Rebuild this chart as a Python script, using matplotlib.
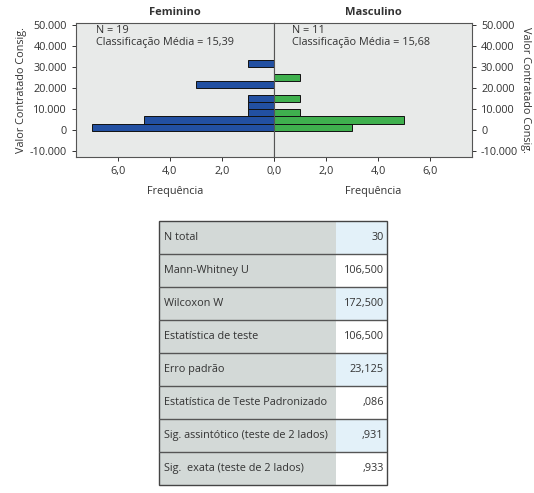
import matplotlib
matplotlib.use('Agg')
import matplotlib.pyplot as plt
from matplotlib.patches import Rectangle
import numpy as np

plt.rcParams['font.family'] = ['Open Sans', 'DejaVu Sans']

# colors
panel_bg   = '#e8eae9'
fem_blue   = '#2250a2'
masc_green = '#3fb04e'
frame_col  = '#555555'
text_col   = '#333333'
cell_gray  = '#d3d9d7'
cell_blue  = '#e3f1f9'

# histogram data (bins of Valor Contratado Consig.)
bin_start = -300
bin_width = 3380
fem_counts  = [7, 5, 1, 1, 1, 0, 3, 0, 0, 1]
masc_counts = [3, 5, 1, 0, 1, 0, 0, 1, 0, 0]
y_ticks = [-10000, 0, 10000, 20000, 30000, 40000, 50000]
y_tick_labels = ['-10.000', '0', '10.000', '20.000', '30.000', '40.000', '50.000']
x_ticks = [0, 2, 4, 6]
x_tick_labels = ['0,0', '2,0', '4,0', '6,0']
fem_info  = 'N = 19\nClassificação Média = 15,39'
masc_info = 'N = 11\nClassificação Média = 15,68'

# test summary table
row_labels = ['N total', 'Mann-Whitney U', 'Wilcoxon W', 'Estatística de teste',
              'Erro padrão', 'Estatística de Teste Padronizado',
              'Sig. assintótico (teste de 2 lados)', 'Sig.  exata (teste de 2 lados)']
row_values = ['30', '106,500', '172,500', '106,500', '23,125', ',086', ',931', ',933']

centers = bin_start + bin_width * (np.arange(len(fem_counts)) + 0.5)

fig = plt.figure(figsize=(5.34, 4.93), dpi=100)
ax_f = fig.add_axes([0.1423, 0.681, 0.3708, 0.2724])
ax_m = fig.add_axes([0.5131, 0.681, 0.3708, 0.2724])

for ax, counts, col in [(ax_f, fem_counts, fem_blue), (ax_m, masc_counts, masc_green)]:
    ax.set_facecolor(panel_bg)
    ax.barh(centers, counts, height=bin_width, color=col, edgecolor='#111111', linewidth=0.7)
    ax.set_ylim(-13000, 51000)
    ax.set_yticks(y_ticks)
    ax.set_yticklabels(y_tick_labels)
    ax.set_xticks(x_ticks)
    ax.tick_params(labelsize=7.8, colors=text_col, length=3, width=0.7)
    ax.set_xlabel('Frequência', fontsize=7.8, color=text_col, labelpad=6)
    for s in ax.spines.values():
        s.set_color(frame_col)
        s.set_linewidth(0.8)

ax_f.set_xlim(7.6, 0)
ax_m.set_xlim(0, 7.6)
# 0,0 is shared at the centre line, print it once
ax_f.set_xticklabels([''] + x_tick_labels[1:])
ax_m.set_xticklabels(x_tick_labels)
ax_m.yaxis.tick_right()
ax_m.yaxis.set_label_position('right')
ax_f.set_ylabel('Valor Contratado Consig.', fontsize=7.8, color=text_col, labelpad=2)
ax_m.set_ylabel('Valor Contratado Consig.', fontsize=7.8, color=text_col, rotation=270, labelpad=9)
ax_f.set_title('Feminino', fontsize=8, fontweight='bold', color=text_col, pad=6)
ax_m.set_title('Masculino', fontsize=8, fontweight='bold', color=text_col, pad=6)
ax_f.text(0.10, 0.985, fem_info, transform=ax_f.transAxes, va='top', ha='left',
          fontsize=7.8, color=text_col, linespacing=1.1)
ax_m.text(0.09, 0.985, masc_info, transform=ax_m.transAxes, va='top', ha='left',
          fontsize=7.8, color=text_col, linespacing=1.1)

# table, drawn cell by cell
ax_t = fig.add_axes([0.2978, 0.0162, 0.427, 0.5355])
ax_t.axis('off')
n = len(row_labels)
ax_t.set_xlim(0, 1)
ax_t.set_ylim(0, n)
split = 0.776
for i, (lab, val) in enumerate(zip(row_labels, row_values)):
    y0 = n - i - 1
    ax_t.add_patch(Rectangle((0, y0), split, 1, facecolor=cell_gray, edgecolor='none'))
    ax_t.add_patch(Rectangle((split, y0), 1 - split, 1,
                             facecolor=cell_blue if i % 2 == 0 else 'white', edgecolor='none'))
    ax_t.text(0.02, y0 + 0.5, lab, ha='left', va='center', fontsize=7.8, color=text_col)
    ax_t.text(0.985, y0 + 0.5, val, ha='right', va='center', fontsize=7.8, color=text_col)
for k in range(1, n):
    ax_t.axhline(k, color='#555555', linewidth=1.0)
ax_t.add_patch(Rectangle((0, 0), 1, n, facecolor='none', edgecolor='#444444',
                         linewidth=1.0, clip_on=False))

fig.savefig('out.png', dpi=100)
